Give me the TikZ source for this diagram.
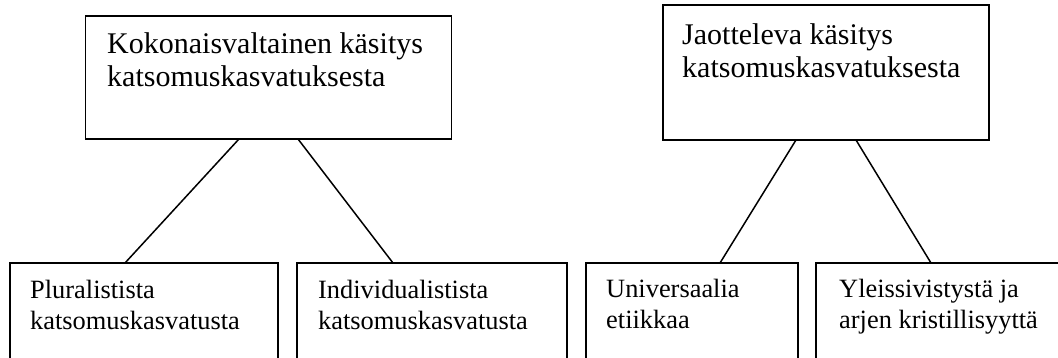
\documentclass[tikz,border=0pt]{standalone}
\usepackage{fontspec}
\setmainfont{Liberation Serif}
\begin{document}
\begin{tikzpicture}[x=1pt,y=-1pt,
  box/.style={draw, line width=1.5pt, inner sep=0pt, outer sep=0pt, anchor=north west},
  bigtxt/.style={anchor=base west, align=left, inner sep=0pt, font=\fontsize{30}{33}\selectfont},
  smalltxt/.style={anchor=base west, align=left, inner sep=0pt, font=\fontsize{26.4}{30.8}\selectfont},
  link/.style={line width=1.5pt}]
\clip (0,0) rectangle (1058,358);
\fill[white] (0,0) rectangle (1058,358);
% top boxes
\node[box, minimum width=366pt, minimum height=123pt] (tl) at (85.5,16) {};
\node[box, minimum width=326pt, minimum height=135pt] (tr) at (663,5) {};
% bottom boxes
\node[box, minimum width=268pt, minimum height=110pt] (b1) at (10,263) {};
\node[box, minimum width=270pt, minimum height=110pt] (b2) at (297,263) {};
\node[box, minimum width=212pt, minimum height=110pt] (b3) at (586,263) {};
\node[box, minimum width=260pt, minimum height=110pt] (b4) at (816,263) {};
% texts (anchor = baseline of last line)
\node[bigtxt] (tlt) at (107,87) {Kokonaisvaltainen käsitys\\katsomuskasvatuksesta};
\node[bigtxt] (trt) at (682,77.3) {Jaotteleva käsitys\\katsomuskasvatuksesta};
\node[smalltxt] (b1t) at (30,329) {Pluralistista\\katsomuskasvatusta};
\node[smalltxt] (b2t) at (318,329) {Individualistista\\katsomuskasvatusta};
\node[smalltxt] (b3t) at (606,328) {Universaalia\\etiikkaa};
\node[smalltxt] (b4t) at (839,328.5) {Yleissivistystä ja\\arjen kristillisyyttä};
% connectors
\draw[link] ([xshift=153.5pt]tl.south west) -- ([xshift=115pt]b1.north west);
\draw[link] ([xshift=212.5pt]tl.south west) -- ([xshift=96pt]b2.north west);
\draw[link] ([xshift=133pt]tr.south west) -- ([xshift=134pt]b3.north west);
\draw[link] ([xshift=193pt]tr.south west) -- ([xshift=115pt]b4.north west);
\end{tikzpicture}
\end{document}
